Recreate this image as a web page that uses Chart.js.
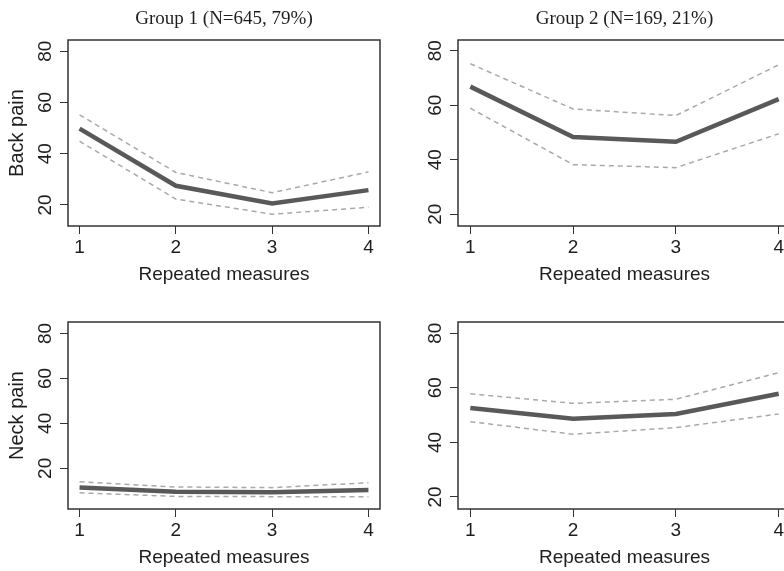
<!DOCTYPE html>
<html>
<head>
<meta charset="utf-8">
<script src="https://cdn.jsdelivr.net/npm/chart.js@4.4.1/dist/chart.umd.min.js"></script>
<style>
  html, body { margin: 0; padding: 0; background: #fff; overflow: hidden; }
  #wrap { position: relative; width: 784px; height: 571px; overflow: hidden; }
  canvas { position: absolute; }
</style>
</head>
<body>
<div id="wrap">
  <canvas id="p1"></canvas>
  <canvas id="p2"></canvas>
  <canvas id="p3"></canvas>
  <canvas id="p4"></canvas>
</div>
<script>
// ---- data ----
const measures = [1, 2, 3, 4];
const yTicks = [20, 40, 60, 80];
const groupTitles = ["Group 1 (N=645, 79%)", "Group 2 (N=169, 21%)"];
const painLabels = ["Back pain", "Neck pain"];
const xTitle = "Repeated measures";

const backG1Mean  = [49.8, 27.5, 20.6, 25.8];
const backG1Upper = [55.2, 32.7, 24.8, 32.9];
const backG1Lower = [44.9, 22.3, 16.4, 19.1];

const backG2Mean  = [66.8, 48.3, 46.6, 62.2];
const backG2Upper = [75.2, 58.6, 56.2, 74.8];
const backG2Lower = [58.9, 38.2, 37.1, 49.5];

const neckG1Mean  = [11.5, 9.6, 9.3, 10.3];
const neckG1Upper = [14.0, 11.7, 11.4, 13.6];
const neckG1Lower = [9.1, 7.5, 7.4, 7.4];

const neckG2Mean  = [52.6, 48.7, 50.4, 57.8];
const neckG2Upper = [57.8, 54.3, 55.8, 65.5];
const neckG2Lower = [47.6, 43.0, 45.4, 50.4];

// ---- look ----
const SANS = "'Liberation Sans', Arial, sans-serif";
const SERIF = "'Liberation Serif', 'Times New Roman', serif";
const INK = "#1e1e1e";

// frame round the plot area, like R's box()
const boxPlugin = {
  id: "box",
  afterDatasetsDraw(chart) {
    const { ctx, chartArea: a } = chart;
    ctx.save();
    ctx.strokeStyle = "#333";
    ctx.lineWidth = 1.5;
    ctx.strokeRect(a.left, a.top, a.right - a.left, a.bottom - a.top);
    ctx.restore();
  }
};

const pts = arr => measures.map((m, i) => ({ x: m, y: arr[i] }));

function panel(id, p) {
  const cv = document.getElementById(id);
  cv.width = p.w;
  cv.height = p.h;
  cv.style.left = p.left + "px";
  cv.style.top = p.top + "px";

  const dashed = {
    borderColor: "#a9a9a9",
    borderWidth: 1.5,
    borderDash: [5, 4],
    pointRadius: 0,
    tension: 0
  };

  new Chart(cv.getContext("2d"), {
    type: "line",
    data: {
      datasets: [
        { data: pts(p.mean), borderColor: "#595959", borderWidth: 4.5, pointRadius: 0, tension: 0 },
        { data: pts(p.upper), ...dashed },
        { data: pts(p.lower), ...dashed }
      ]
    },
    options: {
      responsive: false,
      animation: false,
      layout: { padding: { top: p.padTop, right: p.padRight, left: 0, bottom: 0 } },
      plugins: {
        legend: { display: false },
        tooltip: { enabled: false },
        title: {
          display: !!p.title,
          text: p.title || "",
          fullSize: false,
          color: INK,
          font: { family: SERIF, size: 19, weight: "normal" },
          padding: { top: 7.6, bottom: 9.6 }
        }
      },
      scales: {
        x: {
          type: "linear",
          min: 0.88,
          max: 4.12,
          afterBuildTicks: s => { s.ticks = measures.map(v => ({ value: v })); },
          afterFit: s => { s.height = 64; },
          ticks: { color: INK, font: { family: SANS, size: 19 }, padding: 2.5, maxRotation: 0 },
          grid: { display: true, drawOnChartArea: false, drawTicks: true, tickLength: 8, color: "#333", lineWidth: 1 },
          border: { display: false },
          title: { display: true, text: xTitle, color: INK, font: { family: SANS, size: 19 }, padding: { top: 0, bottom: 4.1 } }
        },
        y: {
          min: p.yMin,
          max: p.yMax,
          afterBuildTicks: s => { s.ticks = yTicks.map(v => ({ value: v })); },
          afterFit: s => { s.width = p.yWidth; },
          ticks: { color: INK, font: { family: SANS, size: 19 }, padding: 4, minRotation: 90, maxRotation: 90, crossAlign: "center" },
          grid: { display: true, drawOnChartArea: false, drawTicks: true, tickLength: 8, color: "#333", lineWidth: 1 },
          border: { display: false },
          title: { display: !!p.yTitle, text: p.yTitle || "", color: INK, font: { family: SANS, size: 20 }, padding: { top: 5.5, bottom: 0 } }
        }
      }
    },
    plugins: [boxPlugin]
  });
}

panel("p1", { left: 0, top: 0, w: 392, h: 290, padTop: 0, padRight: 12, yWidth: 68,
  title: groupTitles[0], yTitle: painLabels[0], yMin: 11.8, yMax: 84.4,
  mean: backG1Mean, upper: backG1Upper, lower: backG1Lower });

panel("p2", { left: 392, top: 0, w: 408, h: 290, padTop: 0, padRight: 9, yWidth: 66,
  title: groupTitles[1], yTitle: null, yMin: 15.7, yMax: 83.9,
  mean: backG2Mean, upper: backG2Upper, lower: backG2Lower });

panel("p3", { left: 0, top: 290, w: 392, h: 283, padTop: 32, padRight: 12, yWidth: 68,
  title: null, yTitle: painLabels[1], yMin: 1.9, yMax: 85.1,
  mean: neckG1Mean, upper: neckG1Upper, lower: neckG1Lower });

panel("p4", { left: 392, top: 290, w: 408, h: 283, padTop: 32, padRight: 9, yWidth: 66,
  title: null, yTitle: null, yMin: 15.6, yMax: 84.1,
  mean: neckG2Mean, upper: neckG2Upper, lower: neckG2Lower });
</script>
</body>
</html>
